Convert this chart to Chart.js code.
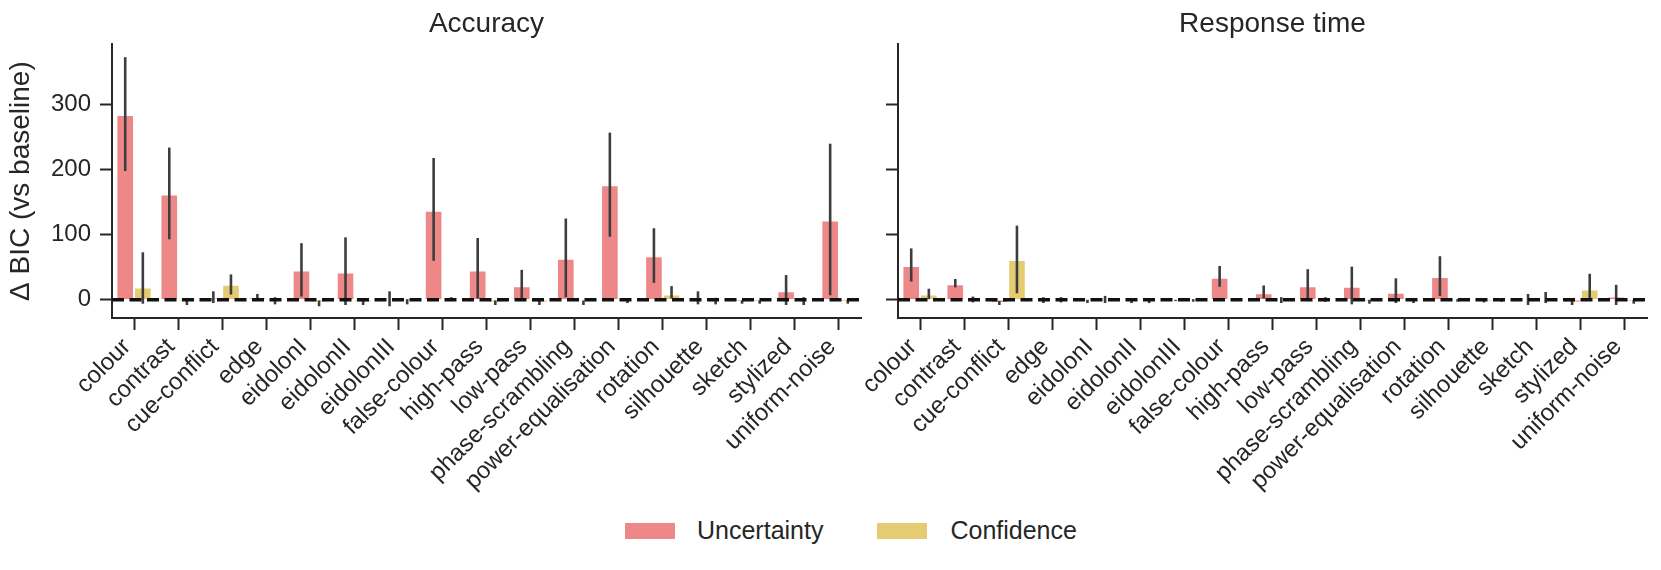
<!DOCTYPE html>
<html>
<head>
<meta charset="utf-8">
<script src="https://cdn.jsdelivr.net/npm/chart.js@4.4.1/dist/chart.umd.min.js"></script>
<style>
  body { margin: 0; background: #fff; width: 1661px; height: 570px; position: relative; overflow: hidden;
         font-family: "Liberation Sans", Arial, sans-serif; color: #262626; }
  #leftBox { position: absolute; left: 0; top: 0; width: 880px; height: 500px; }
  #rightBox { position: absolute; left: 858px; top: 0; width: 803px; height: 500px; }
  .legend { position: absolute; left: 625px; top: 516px; display: flex; align-items: center; font-size: 25px; }
  .swatch { width: 50px; height: 16px; display: inline-block; }
</style>
</head>
<body>
<div id="leftBox"><canvas id="accChart"></canvas></div>
<div id="rightBox"><canvas id="rtChart"></canvas></div>
<div class="legend">
  <span class="swatch" style="background:#ee8888"></span>
  <span style="margin-left:22px">Uncertainty</span>
  <span class="swatch" style="background:#e5cc73; margin-left:54px"></span>
  <span style="margin-left:23px">Confidence</span>
</div>
<script>
// categories (same for both panels)
const conditions = ['colour', 'contrast', 'cue-conflict', 'edge', 'eidolonI', 'eidolonII', 'eidolonIII',
  'false-colour', 'high-pass', 'low-pass', 'phase-scrambling', 'power-equalisation', 'rotation',
  'silhouette', 'sketch', 'stylized', 'uniform-noise'];

const yTicks = [0, 100, 200, 300];
const yLabel = 'Δ BIC (vs baseline)';

// Accuracy panel
const accUnc   = [284, 162, 3, 4, 45, 42, 0, 137, 45, 21, 63, 176, 67, 0, -2, 13, 122];
const accUncLo = [198, 93, -5, 0, 5, -8, -10, 60, 2, 2, 4, 97, 26, -7, -6, -8, 7];
const accUncHi = [373, 234, 13, 9, 87, 96, 13, 218, 95, 46, 125, 257, 110, 13, -1, 38, 240];
const accConf   = [19, -3, 23, 0, -4, -4, 0, 1, -4, -4, -1, -1, 8, -1, -3, -1, -3];
const accConfLo = [-6, -8, 8, -7, -10, -8, -7, 0, -8, -8, -8, -5, 2, -7, -6, -8, -6];
const accConfHi = [73, 0, 39, 4, -1, 0, 1, 4, -1, 0, -1, 2, 21, 3, -1, 4, 0];

// Response time panel
const rtUnc   = [52, 24, -5, 0, -1, 0, 0, 34, 10, 21, 20, 11, 35, -2, 0, -4, 5];
const rtUncLo = [28, 19, -8, -5, -5, -5, -2, 20, 2, 2, -7, -5, 6, -4, -8, -8, -8];
const rtUncHi = [79, 32, -2, 4, 0, 1, 0, 52, 22, 47, 51, 33, 67, 0, 9, -1, 23];
const rtConf   = [8, 1, 61, 0, 0, 0, 0, 0, 0, 0, -3, -2, 0, -1, 0, 16, -3];
const rtConfLo = [1, -4, 10, -4, -5, -5, -3, -2, -5, -3, -6, -5, -3, -3, -5, 2, -6];
const rtConfHi = [17, 5, 114, 4, 6, 1, 1, 1, 4, 4, 0, 0, 1, 0, 12, 40, 0];

const ink = '#262626';
const family = '"Liberation Sans", Arial, sans-serif';

// error bars + dashed zero line, drawn through the chart's own scales
const extras = {
  id: 'extras',
  afterDatasetsDraw(chart) {
    const ctx = chart.ctx;
    const y = chart.scales.y;
    const area = chart.chartArea;
    ctx.save();
    chart.data.datasets.forEach((ds, di) => {
      const meta = chart.getDatasetMeta(di);
      meta.data.forEach((bar, i) => {
        ctx.strokeStyle = '#3d3d3d';
        ctx.lineWidth = 2.6;
        ctx.beginPath();
        ctx.moveTo(bar.x, y.getPixelForValue(ds.errLo[i]));
        ctx.lineTo(bar.x, y.getPixelForValue(ds.errHi[i]));
        ctx.stroke();
      });
    });
    const y0 = y.getPixelForValue(0);
    ctx.strokeStyle = '#111';
    ctx.lineWidth = 3.5;
    ctx.setLineDash([12, 5.5]);
    ctx.beginPath();
    ctx.moveTo(area.left, y0);
    ctx.lineTo(area.right, y0);
    ctx.stroke();
    ctx.restore();
  }
};

function makeChart(id, title, unc, uncLo, uncHi, conf, confLo, confHi, showY, axisWidth, padRight) {
  return new Chart(document.getElementById(id), {
    type: 'bar',
    data: {
      labels: conditions,
      datasets: [
        { label: 'Uncertainty', data: unc, errLo: uncLo, errHi: uncHi,
          backgroundColor: '#ee8888', borderColor: 'rgba(255,255,255,0.55)', borderWidth: 1,
          categoryPercentage: 0.8, barPercentage: 1.0 },
        { label: 'Confidence', data: conf, errLo: confLo, errHi: confHi,
          backgroundColor: '#e5cc73', borderColor: 'rgba(255,255,255,0.55)', borderWidth: 1,
          categoryPercentage: 0.8, barPercentage: 1.0 }
      ]
    },
    options: {
      responsive: true,
      maintainAspectRatio: false,
      animation: false,
      layout: { padding: { right: padRight, top: 0, bottom: 0, left: 0 } },
      plugins: {
        legend: { display: false },
        tooltip: { enabled: false },
        title: { display: true, text: title, fullSize: false, color: ink,
                 font: { size: 28, weight: 'normal', family: family, lineHeight: 1.15 },
                 padding: { top: 8, bottom: 4 } }
      },
      scales: {
        x: {
          grid: { display: true, offset: false, drawOnChartArea: false, drawTicks: true,
                  tickLength: 12, tickWidth: 2, tickColor: ink },
          border: { display: true, color: ink, width: 2 },
          ticks: { autoSkip: false, maxRotation: 45, minRotation: 45, color: ink, padding: 3,
                   labelOffset: -7, font: { size: 24, family: family } },
          afterFit: s => { s.height = 182; }
        },
        y: {
          min: -28,
          max: 393,
          afterBuildTicks: s => { s.ticks = yTicks.map(v => ({ value: v })); },
          grid: { display: true, drawOnChartArea: false, drawTicks: true,
                  tickLength: 12, tickWidth: 2, tickColor: ink },
          border: { display: true, color: ink, width: 2 },
          ticks: { display: showY, color: ink, padding: 9, font: { size: 24, family: family } },
          title: { display: showY, text: yLabel, color: ink,
                   font: { size: 28, family: family }, padding: { top: 4, bottom: 0 } },
          afterFit: s => { s.width = axisWidth; }
        }
      }
    },
    plugins: [extras]
  });
}

makeChart('accChart', 'Accuracy', accUnc, accUncLo, accUncHi, accConf, accConfLo, accConfHi, true, 112, 19);
makeChart('rtChart', 'Response time', rtUnc, rtUncLo, rtUncHi, rtConf, rtConfLo, rtConfHi, false, 40, 14);
</script>
</body>
</html>
